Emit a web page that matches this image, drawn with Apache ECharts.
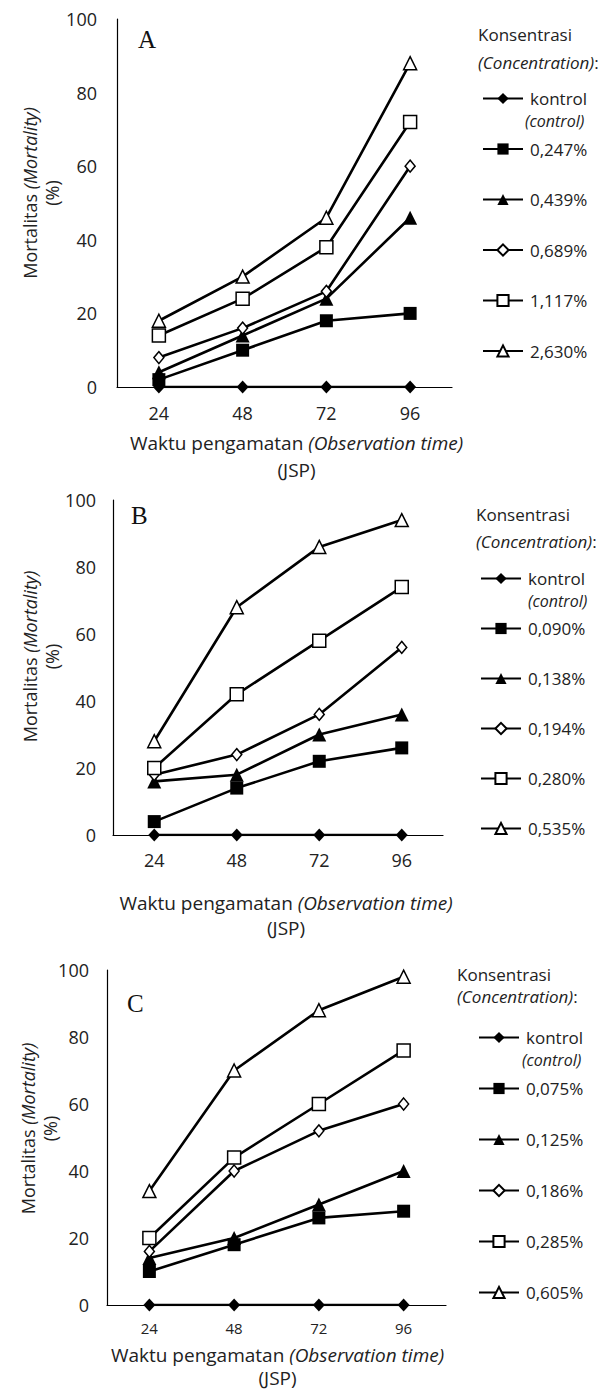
<!DOCTYPE html>
<html>
<head>
<meta charset="utf-8">
<script src="https://cdn.jsdelivr.net/npm/echarts@6/dist/echarts.min.js"></script>
<style>
html,body{margin:0;padding:0;background:#fff;}
#chart{width:611px;height:1389px;}
</style>
</head>
<body>
<div id="chart"></div>
<script>
// ---- data ----
const categories = ['24', '48', '72', '96'];
const yTicks = [0, 20, 40, 60, 80, 100];

const namesA = ['kontrol', '0,247%', '0,439%', '0,689%', '1,117%', '2,630%'];
const a_kontrol = [0, 0, 0, 0];
const a_0247 = [2, 10, 18, 20];
const a_0439 = [4, 14, 24, 46];
const a_0689 = [8, 16, 26, 60];
const a_1117 = [14, 24, 38, 72];
const a_2630 = [18, 30, 46, 88];

const namesB = ['kontrol ', '0,090%', '0,138%', '0,194%', '0,280%', '0,535%'];
const b_kontrol = [0, 0, 0, 0];
const b_0090 = [4, 14, 22, 26];
const b_0138 = [16, 18, 30, 36];
const b_0194 = [18, 24, 36, 56];
const b_0280 = [20, 42, 58, 74];
const b_0535 = [28, 68, 86, 94];

const namesC = ['kontrol  ', '0,075%', '0,125%', '0,186%', '0,285%', '0,605%'];
const c_kontrol = [0, 0, 0, 0];
const c_0075 = [10, 18, 26, 28];
const c_0125 = [14, 20, 30, 40];
const c_0186 = [16, 40, 52, 60];
const c_0285 = [20, 44, 60, 76];
const c_0605 = [34, 70, 88, 98];

const panelLetters = ['A', 'B', 'C'];

// ---- styles ----
const FONT = 'Open Sans';
const TXT = '#222';
const markerStyles = [
  { symbol: 'diamond', size: [12, 13], fill: '#000' },
  { symbol: 'rect', size: 13, fill: '#000' },
  { symbol: 'triangle', size: 14, fill: '#000' },
  { symbol: 'diamond', size: [10, 12], fill: '#fff' },
  { symbol: 'rect', size: 13, fill: '#fff' },
  { symbol: 'triangle', size: 13, fill: '#fff' }
];

const panels = [
  { names: namesA, data: [a_kontrol, a_0247, a_0439, a_0689, a_1117, a_2630],
    grid: { left: 117, top: 19, width: 335, height: 368 },
    yNameGap: 54, yNameShift: 20, yLabelMargin: 20, xLabelMargin: 17, xLabelSize: 18, xNameGap: 42, xNameShift: 24, xLineH: 27,
    legend: { left: 482, top: 90, gap: 33.5 }, ctrl: { x: 525, y: 120.5 },
    head: { left: 478, top: 20, lh: 28 }, letter: { left: 138, top: 27 } },
  { names: namesB, data: [b_kontrol, b_0090, b_0138, b_0194, b_0280, b_0535],
    grid: { left: 113, top: 500, width: 330, height: 335 },
    yNameGap: 50, yNameShift: 22, yLabelMargin: 17, xLabelMargin: 16, xLabelSize: 18, xNameGap: 55, xNameShift: 16, xLineH: 25,
    legend: { left: 480, top: 570, gap: 33 }, ctrl: { x: 528, y: 600.5 },
    head: { left: 476, top: 501, lh: 27 }, letter: { left: 131, top: 503 } },
  { names: namesC, data: [c_kontrol, c_0075, c_0125, c_0186, c_0285, c_0605],
    grid: { left: 107, top: 970, width: 339, height: 335 },
    yNameGap: 46, yNameShift: 18, yLabelMargin: 18, xLabelMargin: 15, xLabelSize: 15, xNameGap: 38, xNameShift: 2, xLineH: 23,
    legend: { left: 478, top: 1029, gap: 34 }, ctrl: { x: 522, y: 1059.5 },
    head: { left: 457, top: 963, lh: 22 }, letter: { left: 127, top: 991 } }
];

const option = {
  animation: false,
  backgroundColor: '#fff',
  textStyle: { fontFamily: FONT, color: TXT },
  grid: [], xAxis: [], yAxis: [], series: [], legend: [], title: [], graphic: []
};

panels.forEach((p, i) => {
  option.grid.push(Object.assign({}, p.grid));
  option.xAxis.push({
    type: 'category', gridIndex: i, data: categories, boundaryGap: true,
    axisLine: { show: true, lineStyle: { color: '#000', width: 1.2 } },
    axisTick: { show: false },
    axisLabel: { color: TXT, fontSize: p.xLabelSize, margin: p.xLabelMargin },
    name: '{n|Waktu pengamatan }{i|(Observation time)}\n{n|(JSP)}',
    nameLocation: 'middle', nameGap: p.xNameGap, nameMoveOverlap: false,
    nameTextStyle: {
      padding: [0, 0, 0, p.xNameShift],
      rich: {
        n: { fontFamily: FONT, fontSize: 19, color: TXT, lineHeight: p.xLineH },
        i: { fontFamily: FONT, fontSize: 19, color: TXT, fontStyle: 'italic', lineHeight: p.xLineH }
      }
    }
  });
  option.yAxis.push({
    type: 'value', gridIndex: i, min: 0, max: 100, interval: 20,
    axisLine: { show: true, lineStyle: { color: '#000', width: 1.2 } },
    axisTick: { show: false },
    splitLine: { show: false },
    axisLabel: { color: TXT, fontSize: 18, margin: p.yLabelMargin },
    name: '{n|Mortalitas }{i|(Mortality)}\n{n|(%)}',
    nameLocation: 'middle', nameRotate: 90, nameGap: p.yNameGap, nameMoveOverlap: false,
    nameTextStyle: {
      padding: [0, 0, 0, p.yNameShift],
      rich: {
        n: { fontFamily: FONT, fontSize: 18, color: TXT, lineHeight: 22 },
        i: { fontFamily: FONT, fontSize: 18, color: TXT, fontStyle: 'italic', lineHeight: 22 }
      }
    }
  });
  p.data.forEach((vals, k) => {
    const m = markerStyles[k];
    option.series.push({
      type: 'line', name: p.names[k], xAxisIndex: i, yAxisIndex: i,
      data: vals, symbol: m.symbol, symbolSize: m.size, showSymbol: true,
      lineStyle: { color: '#000', width: 2.6 },
      itemStyle: { color: m.fill, borderColor: '#000', borderWidth: m.fill === '#fff' ? 1.5 : 0 },
      emphasis: { disabled: true }, z: 2 + k
    });
  });
  option.legend.push({
    orient: 'vertical', left: p.legend.left, top: p.legend.top, padding: 0,
    itemGap: p.legend.gap, itemWidth: 40, itemHeight: 14,
    data: p.names, selectedMode: false,
    textStyle: { fontFamily: FONT, fontSize: 17, color: TXT, lineHeight: 16, padding: [0, 0, 0, 2] },
    formatter: n => n.trim()
  });
  option.title.push({
    text: '{n|Konsentrasi}\n{i|(Concentration)}{n|:}',
    left: p.head.left, top: p.head.top, padding: 0,
    textStyle: {
      fontWeight: 'normal',
      rich: {
        n: { fontFamily: FONT, fontSize: 17, fontWeight: 'normal', color: TXT, lineHeight: p.head.lh },
        i: { fontFamily: FONT, fontSize: 17, fontWeight: 'normal', color: TXT, fontStyle: 'italic', lineHeight: p.head.lh }
      }
    }
  });
  option.title.push({
    text: panelLetters[i], left: p.letter.left, top: p.letter.top, padding: 0,
    textStyle: { fontFamily: 'Liberation Serif', fontSize: 25, fontWeight: 'normal', color: '#111' }
  });
  option.graphic.push({
    type: 'text', left: p.ctrl.x, top: p.ctrl.y - 8,
    style: { text: '(control)', font: 'italic 16px "Open Sans"', fill: TXT, lineHeight: 16 }
  });
});

const chart = echarts.init(document.getElementById('chart'), null, { renderer: 'svg' });
chart.setOption(option);
</script>
</body>
</html>
